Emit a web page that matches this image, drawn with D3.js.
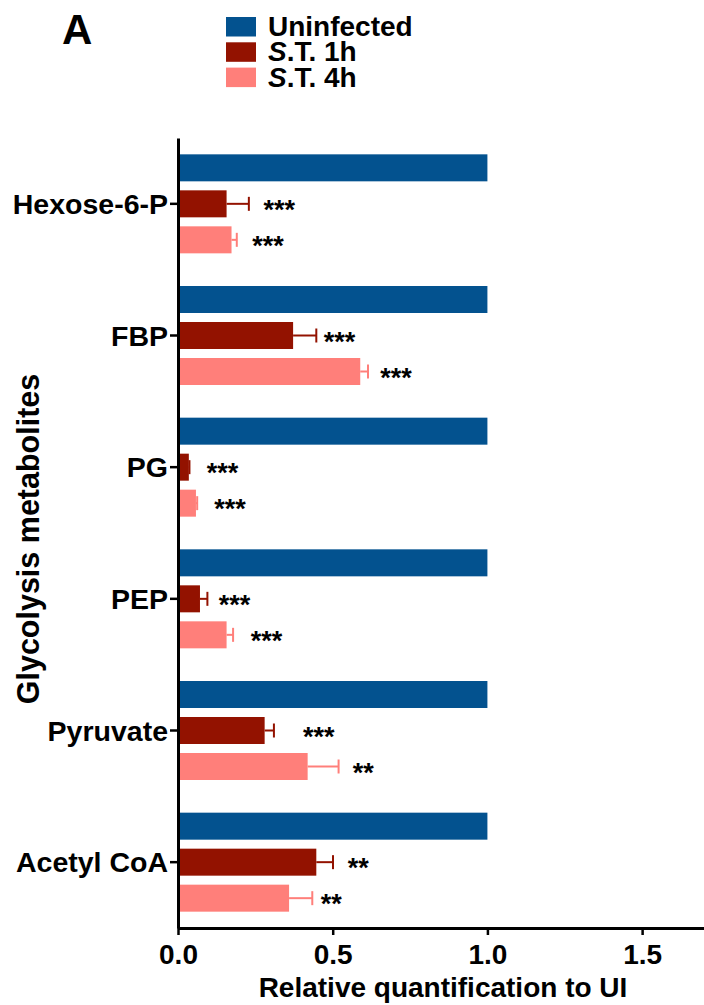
<!DOCTYPE html>
<html>
<head>
<meta charset="utf-8">
<script src="https://cdn.jsdelivr.net/npm/d3@7"></script>
<style>
    body { margin: 0; background: #fff; }
    text { font-family: "Liberation Sans", Arial, sans-serif; font-weight: bold; fill: #000; }
</style>
</head>
<body>
<div id="chart"></div>
<script>
// metabolites on the y axis
const metabolites = ["Hexose-6-P", "FBP", "PG", "PEP", "Pyruvate", "Acetyl CoA"]
const series = ["Uninfected", "S.T. 1h", "S.T. 4h"]

// mean values relative to uninfected
const uninfected = [1.0, 1.0, 1.0, 1.0, 1.0, 1.0]
const st1h = [0.157, 0.372, 0.035, 0.071, 0.280, 0.447]
const st4h = [0.173, 0.589, 0.058, 0.157, 0.419, 0.359]

// upper end of error bars
const st1hErr = [0.229, 0.447, 0.037, 0.095, 0.310, 0.501]
const st4hErr = [0.190, 0.614, 0.062, 0.178, 0.519, 0.434]

// significance marks and where they start (x in data units)
const st1hSig = ["***", "***", "***", "***", "***", "**"]
const st4hSig = ["***", "***", "***", "***", "**", "**"]
const st1hSigAt = [0.276, 0.471, 0.093, 0.132, 0.404, 0.549]
const st4hSigAt = [0.240, 0.654, 0.117, 0.235, 0.565, 0.461]

const xTicks = [0, 0.5, 1.0, 1.5]

const colors = { "Uninfected": "#03528f", "S.T. 1h": "#931200", "S.T. 4h": "#ff7f7a" }

const dimensions = {
    width: 704,
    height: 1005,
    margin: { top: 138, right: 0, bottom: 77, left: 178 }
}
dimensions.boundedWidth = dimensions.width - dimensions.margin.left - dimensions.margin.right
dimensions.boundedHeight = dimensions.height - dimensions.margin.top - dimensions.margin.bottom

const svg = d3.select("#chart").append("svg")
    .attr("width", dimensions.width)
    .attr("height", dimensions.height)

const bounds = svg.append("g")
    .attr("transform", `translate(${dimensions.margin.left},${dimensions.margin.top})`)

const xScale = d3.scaleLinear()
    .domain([0, 1.7])
    .range([0, dimensions.boundedWidth])

const yScale = d3.scaleBand()
    .domain(metabolites)
    .range([0, dimensions.boundedHeight])

const inner = d3.scaleBand()
    .domain(series)
    .range([-54, 54])
    .paddingInner(0.25)
    .paddingOuter(0.125)

// build rows for drawing
const rows = []
metabolites.forEach((m, i) => {
    rows.push({ m, s: "Uninfected", v: uninfected[i], err: null, sig: null, sigAt: null })
    rows.push({ m, s: "S.T. 1h", v: st1h[i], err: st1hErr[i], sig: st1hSig[i], sigAt: st1hSigAt[i] })
    rows.push({ m, s: "S.T. 4h", v: st4h[i], err: st4hErr[i], sig: st4hSig[i], sigAt: st4hSigAt[i] })
})
const barY = d => yScale(d.m) + yScale.bandwidth() / 2 + inner(d.s)
const barMid = d => barY(d) + inner.bandwidth() / 2

// error bars (drawn under the bars)
const errRows = rows.filter(d => d.err != null)
bounds.append("g").selectAll("line.err")
    .data(errRows)
    .join("line")
    .attr("x1", d => xScale(d.v))
    .attr("x2", d => xScale(d.err))
    .attr("y1", barMid)
    .attr("y2", barMid)
    .attr("stroke", d => colors[d.s])
    .attr("stroke-width", 2)
bounds.append("g").selectAll("line.cap")
    .data(errRows)
    .join("line")
    .attr("x1", d => xScale(d.err))
    .attr("x2", d => xScale(d.err))
    .attr("y1", d => barMid(d) - 7)
    .attr("y2", d => barMid(d) + 7)
    .attr("stroke", d => colors[d.s])
    .attr("stroke-width", 2)

bounds.append("g").selectAll("rect")
    .data(rows)
    .join("rect")
    .attr("x", 0)
    .attr("y", barY)
    .attr("width", d => xScale(d.v))
    .attr("height", inner.bandwidth())
    .attr("fill", d => colors[d.s])

bounds.append("g").selectAll("text")
    .data(errRows)
    .join("text")
    .attr("x", d => xScale(d.sigAt))
    .attr("y", d => barMid(d) + 15)
    .style("font-size", "27px")
    .text(d => d.sig)

// axes
const xAxis = bounds.append("g")
    .attr("transform", `translate(0,${dimensions.boundedHeight})`)
    .call(d3.axisBottom(xScale).tickValues(xTicks).tickFormat(d3.format(".1f")).tickSize(7).tickSizeOuter(0).tickPadding(5))
xAxis.select(".domain").attr("stroke-width", 3).attr("stroke", "#000")
xAxis.selectAll(".tick line").attr("stroke-width", 2.5)
xAxis.selectAll(".tick text").style("font-size", "28px").attr("dy", "0.85em")

const yAxis = bounds.append("g")
    .call(d3.axisLeft(yScale).tickSize(8).tickSizeOuter(0).tickPadding(2))
yAxis.select(".domain").attr("stroke-width", 3).attr("stroke", "#000")
yAxis.selectAll(".tick line").attr("stroke-width", 2.5)
yAxis.selectAll(".tick text").style("font-size", "28.5px").attr("dy", "0.36em")

// axis titles
svg.append("text")
    .attr("x", 443)
    .attr("y", 997)
    .attr("text-anchor", "middle")
    .style("font-size", "28px")
    .text("Relative quantification to UI")

svg.append("text")
    .attr("transform", "translate(39,539) rotate(-90)")
    .attr("text-anchor", "middle")
    .style("font-size", "30.5px")
    .text("Glycolysis metabolites")

// panel letter
svg.append("text")
    .attr("x", 62)
    .attr("y", 44)
    .style("font-size", "42px")
    .text("A")

// legend
const legend = svg.append("g").attr("transform", "translate(226,17)")
const item = legend.selectAll("g")
    .data(series)
    .join("g")
    .attr("transform", (d, i) => `translate(0,${i * 25.3})`)
item.append("rect")
    .attr("width", 30)
    .attr("height", 19.5)
    .attr("fill", d => colors[d])
const label = item.append("text")
    .attr("x", 42)
    .attr("y", 19)
    .style("font-size", "28px")
label.each(function (d) {
    const t = d3.select(this)
    if (d.startsWith("S.T.")) {
        t.append("tspan").style("font-style", "italic").text("S")
        t.append("tspan").text(d.slice(1))
    } else {
        t.text(d)
    }
})
</script>
</body>
</html>
